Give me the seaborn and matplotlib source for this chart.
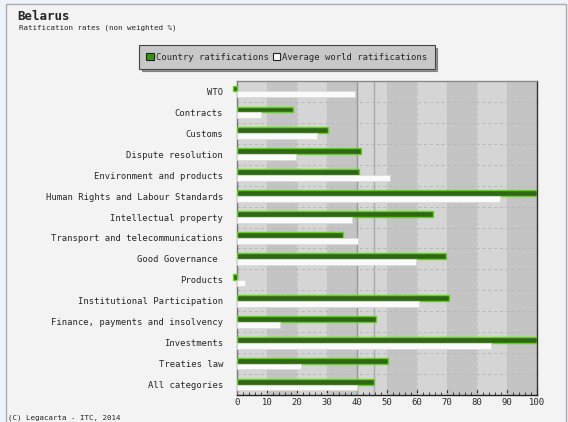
import numpy as np
import pandas as pd
import matplotlib
matplotlib.use('Agg')
import matplotlib.pyplot as plt
from matplotlib.patches import Patch, Rectangle
from matplotlib.ticker import MultipleLocator
import seaborn as sns

# --- data ---
categories = ['WTO', 'Contracts', 'Customs', 'Dispute resolution',
              'Environment and products', 'Human Rights and Labour Standards',
              'Intellectual property', 'Transport and telecommunications',
              'Good Governance ', 'Products', 'Institutional Participation',
              'Finance, payments and insolvency', 'Investments',
              'Treaties law', 'All categories']
country = [0, 18.5, 30.4, 41.4, 40.8, 100, 65.4, 35.4, 69.5, 0, 70.7, 46.3, 100, 50.2, 45.5]
world = [39.2, 8.1, 26.8, 19.7, 51.0, 87.5, 38.4, 40.4, 59.5, 2.7, 60.8, 14.4, 84.6, 21.4, 40.0]
series_names = ['Country ratifications', 'Average world ratifications']
x_ticks = list(range(0, 101, 10))

df = pd.concat([
    pd.DataFrame({'category': categories, 'value': country, 'series': series_names[0]}),
    pd.DataFrame({'category': categories, 'value': world, 'series': series_names[1]}),
])

sns.set_style('white')
plt.rcParams['font.family'] = ['DejaVu Sans Mono', 'DejaVu Sans']

fig = plt.figure(figsize=(5.68, 4.22), dpi=100)
fig.patch.set_facecolor('#eef2fa')
fig.add_artist(Rectangle((6 / 568, -0.01), 560 / 568, 1 - 4 / 422 + 0.01,
                         transform=fig.transFigure, facecolor='#f3f3f3',
                         edgecolor='#aaaaaa', linewidth=1, zorder=-10))

ax = fig.add_axes([237 / 568, 1 - 395 / 422, 300 / 568, 314 / 422])

sns.barplot(data=df, x='value', y='category', hue='series', orient='h',
            hue_order=series_names, palette=['#2a740a', '#fbfbfb'],
            width=0.56, dodge=True, legend=False, ax=ax, zorder=3)
bars = list(ax.patches)

# alternating vertical bands
for i, x0 in enumerate(x_ticks[:-1]):
    ax.axvspan(x0, x0 + 10, facecolor='#d5d5d5' if i % 2 == 0 else '#c4c4c4',
               edgecolor='none', zorder=0, lw=0)

n = len(categories)
for k, p in enumerate(bars):
    if k < n:
        p.set_edgecolor('#66d022')
        p.set_linewidth(1.0)
        if p.get_width() == 0:
            p.set_x(-1.3)
            p.set_width(1.3)
            p.set_clip_on(False)
    else:
        p.set_edgecolor('#dadada')
        p.set_linewidth(0.6)

# dashed grid
for i in range(n - 1):
    ax.axhline(i + 0.5, color='#b8b8b8', lw=0.7, ls=(0, (3, 3)), zorder=1)
for x in x_ticks[1:-1]:
    ax.axvline(x, color='#c0c0c0', lw=0.6, ls=(0, (3, 3)), zorder=1)

# reference lines at "All categories" values
ax.axvline(world[-1], color='#999999', lw=1.0, zorder=2)
ax.axvline(country[-1], color='#aaaaaa', lw=1.0, zorder=2)

ax.set_xlim(0, 100)
ax.set_ylim(n - 0.5, -0.5)
ax.set_xlabel('')
ax.set_ylabel('')
ax.set_xticks(x_ticks)
ax.xaxis.set_minor_locator(MultipleLocator(2))
ax.tick_params(axis='x', which='major', direction='in', length=4, width=0.8,
               labelsize=6.4, pad=2, color='#222222', bottom=True)
ax.tick_params(axis='x', which='minor', direction='in', length=2, width=0.6,
               color='#222222', bottom=True)
ax.tick_params(axis='y', length=0, labelsize=6.4, pad=10)

for side, col, lw in [('left', '#777777', 1.0), ('top', '#888888', 1.0),
                      ('right', '#333333', 1.0), ('bottom', '#222222', 1.0)]:
    ax.spines[side].set_visible(True)
    ax.spines[side].set_color(col)
    ax.spines[side].set_linewidth(lw)

handles = [Patch(facecolor='#2f9a0c', edgecolor='#222222', lw=0.8),
           Patch(facecolor='#ffffff', edgecolor='#222222', lw=0.8)]
leg = fig.legend(handles, series_names, loc='center', ncol=2,
                 bbox_to_anchor=(287 / 568, 1 - 57 / 422), fontsize=6.4,
                 frameon=True, fancybox=False, shadow=True,
                 handlelength=0.8, handleheight=0.8, handletextpad=0.25,
                 columnspacing=0.5, borderpad=0.8, borderaxespad=0)
leg.get_frame().set_facecolor('#c8c8c8')
leg.get_frame().set_edgecolor('#444444')
leg.get_frame().set_linewidth(0.8)

fig.text(17 / 568, 1 - 17 / 422, 'Belarus', fontsize=9, fontweight='bold',
         va='center', ha='left')
fig.text(19 / 568, 1 - 28 / 422, 'Ratification rates (non weighted %)',
         fontsize=5.4, va='center', ha='left')
fig.text(8 / 568, 1 - 418 / 422, '(C) Legacarta - ITC, 2014',
         fontsize=5.4, va='center', ha='left')

fig.savefig('out.png', dpi=100, facecolor=fig.get_facecolor())
